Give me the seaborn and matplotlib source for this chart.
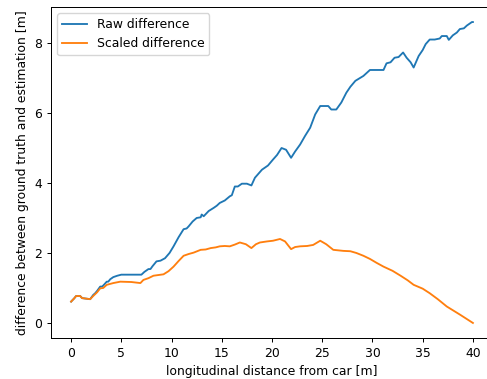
import numpy as np
import pandas as pd
import matplotlib
matplotlib.use("Agg")
import matplotlib.pyplot as plt
import seaborn as sns

# ── Data ──────────────────────────────────────────────────────────────────────

raw_x = [0.0, 0.3, 0.5, 0.9, 1.1, 1.9, 2.2, 2.4, 2.6, 2.9, 3.1, 3.3, 3.55,
         3.7, 3.9, 4.2, 4.6, 5.0, 6.0, 7.0, 7.3, 7.7, 7.9, 8.1, 8.5, 8.9,
         9.35, 9.8, 10.2, 10.7, 11.2, 11.5, 11.7, 12.1, 12.5, 12.9, 13.0, 13.2,
         13.7, 14.2, 14.5, 14.8, 15.3, 15.8, 16.0, 16.3, 16.6, 17.0, 17.5,
         17.95, 18.3, 19.0, 19.6, 20.1, 20.5, 20.95, 21.4, 21.9, 22.3, 22.8,
         23.3, 23.8, 24.3, 24.8, 25.6, 25.9, 26.4, 26.9, 27.4, 27.8, 28.3,
         29.1, 29.75, 31.1, 31.4, 31.8, 32.2, 32.6, 33.05, 33.4, 33.8, 34.1,
         34.6, 35.0, 35.3, 35.7, 36.2, 36.7, 36.9, 37.4, 37.6, 38.0, 38.4,
         38.7, 39.1, 39.4, 39.9, 40.0]
raw_y = [0.61, 0.7, 0.77, 0.77, 0.71, 0.68, 0.8, 0.85, 0.92, 1.04, 1.04, 1.1,
         1.18, 1.18, 1.25, 1.31, 1.35, 1.38, 1.38, 1.38, 1.46, 1.54, 1.54,
         1.62, 1.76, 1.78, 1.85, 2.0, 2.19, 2.45, 2.68, 2.7, 2.76, 2.9, 3.0,
         3.02, 3.1, 3.05, 3.2, 3.29, 3.35, 3.43, 3.5, 3.62, 3.65, 3.9, 3.9,
         3.98, 3.98, 3.93, 4.15, 4.38, 4.5, 4.67, 4.8, 5.0, 4.95, 4.72, 4.9,
         5.1, 5.35, 5.58, 5.96, 6.2, 6.2, 6.1, 6.1, 6.3, 6.58, 6.75, 6.92,
         7.06, 7.23, 7.23, 7.42, 7.45, 7.58, 7.6, 7.73, 7.58, 7.45, 7.3, 7.63,
         7.8, 7.97, 8.1, 8.1, 8.13, 8.2, 8.2, 8.09, 8.22, 8.3, 8.4, 8.42, 8.5,
         8.6, 8.6]

scaled_x = [0.0, 0.3, 0.5, 0.9, 1.1, 1.9, 2.2, 2.6, 2.9, 3.2, 3.55, 4.2, 4.9,
            6.0, 6.9, 7.2, 7.7, 8.2, 8.7, 9.2, 9.7, 10.2, 10.7, 11.2, 11.7,
            12.2, 12.9, 13.4, 13.9, 14.4, 14.8, 15.3, 15.8, 16.3, 16.8, 17.4,
            17.95, 18.4, 18.8, 19.5, 20.1, 20.8, 21.3, 21.9, 22.3, 22.8, 23.5,
            24.1, 24.8, 25.4, 26.1, 27.1, 27.8, 28.4, 29.1, 29.75, 30.4, 31.1,
            32.0, 32.8, 33.5, 34.1, 35.0, 35.7, 36.5, 37.4, 38.7, 40.0]
scaled_y = [0.61, 0.7, 0.77, 0.77, 0.71, 0.68, 0.77, 0.88, 0.99, 1.0, 1.09,
            1.14, 1.18, 1.17, 1.14, 1.23, 1.28, 1.35, 1.37, 1.39, 1.48, 1.61,
            1.77, 1.92, 1.97, 2.01, 2.09, 2.1, 2.14, 2.16, 2.19, 2.2, 2.19,
            2.24, 2.3, 2.25, 2.14, 2.25, 2.3, 2.33, 2.35, 2.4, 2.33, 2.11, 2.17,
            2.19, 2.2, 2.23, 2.35, 2.25, 2.09, 2.06, 2.05, 2.0, 1.92, 1.83,
            1.72, 1.61, 1.49, 1.35, 1.22, 1.09, 0.98, 0.85, 0.68, 0.47, 0.24,
            0.0]

# ── Plot ─────────────────────────────────────────────────────────────────────

scale = 0.89
plt.rcParams.update({
    "font.size": 10 * scale,
    "lines.linewidth": 1.5 * scale,
    "axes.linewidth": 0.8 * scale,
    "xtick.major.size": 3.5 * scale,
    "ytick.major.size": 3.5 * scale,
    "xtick.major.pad": 3.5 * scale,
    "ytick.major.pad": 3.5 * scale,
    "xtick.major.width": 0.8 * scale,
    "ytick.major.width": 0.8 * scale,
})

fig = plt.figure(figsize=(4.87, 3.79), dpi=100)
ax = fig.add_axes([51 / 487, 41 / 379, 442 / 487, 331 / 379])

sns.lineplot(x=raw_x, y=raw_y, ax=ax, label="Raw difference",
             color="#1f77b4", sort=False)
sns.lineplot(x=scaled_x, y=scaled_y, ax=ax, label="Scaled difference",
             color="#ff7f0e", sort=False)

ax.set_xticks([0, 5, 10, 15, 20, 25, 30, 35, 40])
ax.set_yticks([0, 2, 4, 6, 8])
ax.set_xlabel("longitudinal distance from car [m]")
ax.set_ylabel("difference between ground truth and estimation [m]")
ax.legend(loc="upper left")

fig.savefig("out.png", dpi=100)
